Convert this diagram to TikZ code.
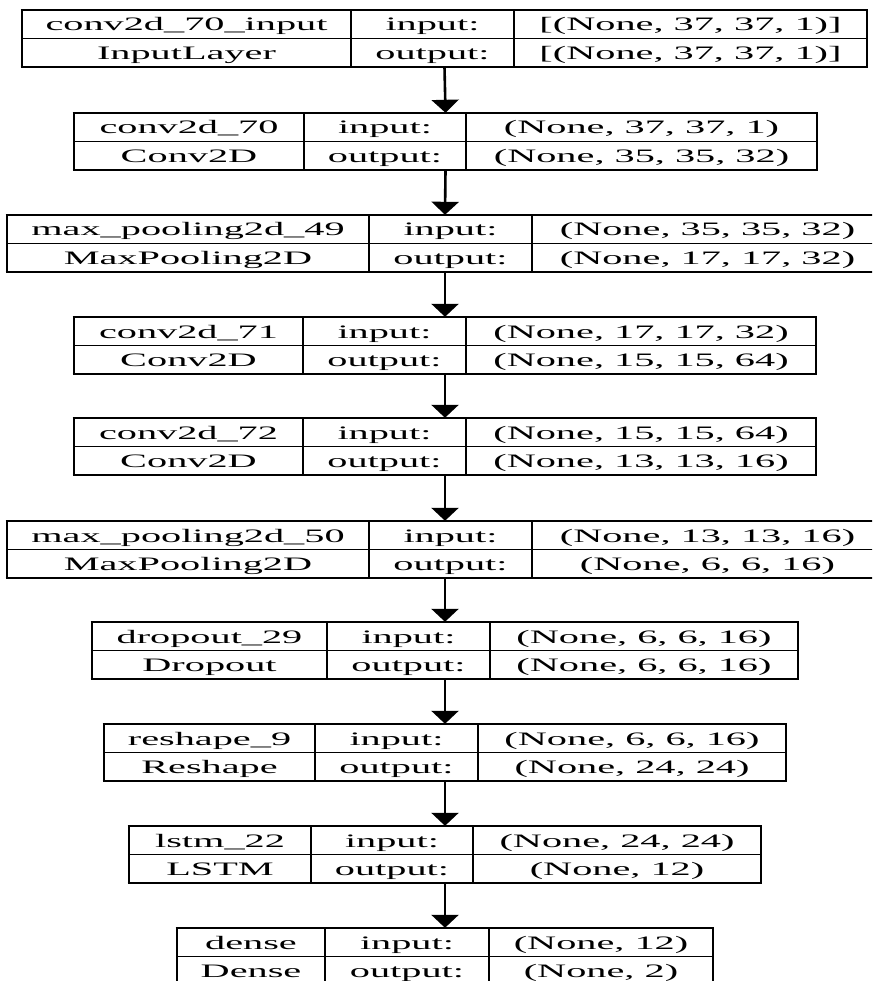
\documentclass[tikz,border=0pt]{standalone}
\usepackage{graphicx}
\usepackage{fontspec}
\setmainfont{Liberation Serif}
\usetikzlibrary{arrows.meta}
\tikzset{
  hline/.style={line width=1.3pt, draw=black},
  vline/.style={line width=2.6pt, draw=black},
  celltext/.style={anchor=base, inner sep=0pt, font=\fontsize{19}{19}\selectfont},
  flow/.style={line width=2.6pt, draw=black, -{Triangle[length=13pt,width=27pt]}},
  framebox/.style={draw=none, inner sep=0pt, minimum height=57pt},
}
\newcommand\sx[1]{\scalebox{2.12}[1]{#1}}
% id top left d1 d2 right name type
\newcommand\layer[8]{%
  \node[framebox, minimum width={(#6-#3)*1pt}] (#1) at ({(#3+#6)/2},{#2+28.5}) {};
  \draw[hline] ({#3-1.3},#2) -- ({#6+1.3},#2);
  \draw[hline] (#3,{#2+28.5}) -- (#6,{#2+28.5});
  \draw[hline] ({#3-1.3},{#2+57}) -- ({#6+1.3},{#2+57});
  \foreach \xx in {#3,#4,#5,#6} {\draw[vline] (\xx,#2) -- (\xx,{#2+57});}
  \node[celltext] (#1-n) at ({(#3+#4)/2},{#2+21}) {\sx{#7}};
  \node[celltext] (#1-t) at ({(#3+#4)/2},{#2+49.5}) {\sx{#8}};
  \node[celltext] (#1-il) at ({(#4+#5)/2},{#2+21}) {\sx{input:}};
  \node[celltext] (#1-ol) at ({(#4+#5)/2},{#2+49.5}) {\sx{output:}};
  \coordinate (#1-ia) at ({(#5+#6)/2},{#2+21});
  \coordinate (#1-oa) at ({(#5+#6)/2},{#2+49.5});
}
\newcommand\shapes[3]{%
  \node[celltext] (#1-i) at (#1-ia) {\sx{#2}};
  \node[celltext] (#1-o) at (#1-oa) {\sx{#3}};
}
\begin{document}
\begin{tikzpicture}[x=1pt,y=-1pt]
\fill[white] (0,0) rectangle (872,981);
\clip (0,0) rectangle (872,981);
\layer{L1}{10}{22}{351}{514}{867}{conv2d\_70\_input}{InputLayer}
\shapes{L1}{[(None, 37, 37, 1)]}{[(None, 37, 37, 1)]}
\layer{L2}{113}{74}{304}{466}{817}{conv2d\_70}{Conv2D}
\shapes{L2}{(None, 37, 37, 1)}{(None, 35, 35, 32)}
\layer{L3}{215}{7}{369}{532}{883}{max\_pooling2d\_49}{MaxPooling2D}
\shapes{L3}{(None, 35, 35, 32)}{(None, 17, 17, 32)}
\layer{L4}{317}{74}{303}{466}{816}{conv2d\_71}{Conv2D}
\shapes{L4}{(None, 17, 17, 32)}{(None, 15, 15, 64)}
\layer{L5}{418}{74}{303}{466}{816}{conv2d\_72}{Conv2D}
\shapes{L5}{(None, 15, 15, 64)}{(None, 13, 13, 16)}
\layer{L6}{521}{7}{369}{532}{883}{max\_pooling2d\_50}{MaxPooling2D}
\shapes{L6}{(None, 13, 13, 16)}{(None, 6, 6, 16)}
\layer{L7}{622}{92}{327}{490}{798}{dropout\_29}{Dropout}
\shapes{L7}{(None, 6, 6, 16)}{(None, 6, 6, 16)}
\layer{L8}{724}{104}{315}{478}{786}{reshape\_9}{Reshape}
\shapes{L8}{(None, 6, 6, 16)}{(None, 24, 24)}
\layer{L9}{826}{129}{311}{473}{761}{lstm\_22}{LSTM}
\shapes{L9}{(None, 24, 24)}{(None, 12)}
\layer{L10}{928}{177}{325}{489}{713}{dense}{Dense}
\shapes{L10}{(None, 12)}{(None, 2)}
\foreach \a/\b in {L1/L2,L2/L3,L3/L4,L4/L5,L5/L6,L6/L7,L7/L8,L8/L9,L9/L10}
  \draw[flow] (\a.south) -- (\b.north);
\end{tikzpicture}
\end{document}
